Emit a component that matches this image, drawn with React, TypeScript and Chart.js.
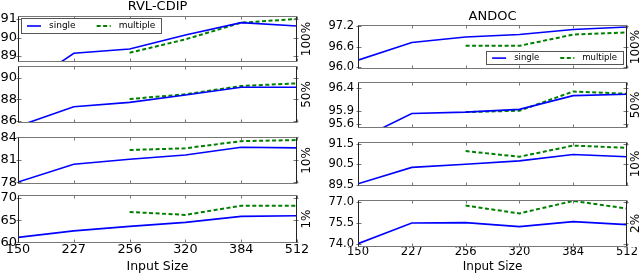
import React, { useEffect, useRef } from 'react';
import { Chart, registerables } from 'chart.js';

Chart.register(...registerables);

const FONT = '"DejaVu Sans", "Liberation Sans", sans-serif';

// ---- categories ----
const inputSizes = ['150', '227', '256', '320', '384', '512'];

// ---- RVL-CDIP ----
const rvl100Single = [87.1, 89.15, 89.38, 90.14, 90.8, 90.62];
const rvl100Multiple = [null, null, 89.18, 89.9, 90.8, 91.0];
const rvl50Single = [85.49, 87.3, 87.71, 88.39, 89.11, 89.11];
const rvl50Multiple = [null, null, 88.02, 88.46, 89.23, 89.48];
const rvl10Single = [78.06, 80.43, 81.09, 81.66, 82.68, 82.6];
const rvl10Multiple = [null, null, 82.32, 82.55, 83.5, 83.64];
const rvl1Single = [61.13, 62.6, 63.6, 64.5, 65.86, 66.0];
const rvl1Multiple = [null, null, 66.85, 66.2, 68.27, 68.27];

// ---- ANDOC ----
const andoc100Single = [96.21, 96.73, 96.89, 96.96, 97.11, 97.18];
const andoc100Multiple = [null, null, 96.63, 96.63, 96.96, 97.02];
const andoc50Single = [95.26, 95.84, 95.87, 95.93, 96.23, 96.26];
const andoc50Multiple = [null, null, 95.87, 95.9, 96.32, 96.27];
const andoc10Single = [89.54, 90.35, 90.5, 90.67, 90.98, 90.87];
const andoc10Multiple = [null, null, 91.15, 90.87, 91.42, 91.31];
const andoc2Single = [74.04, 75.5, 75.52, 75.24, 75.59, 75.38];
const andoc2Multiple = [null, null, 76.72, 76.17, 77.05, 76.51];

// ---- y tick labels ----
const rvl100Ticks = [89, 90, 91];
const rvl50Ticks = [86, 88, 90];
const rvl10Ticks = [78, 81, 84];
const rvl1Ticks = [60, 65, 70];
const andoc100Ticks = [96.0, 96.6, 97.2];
const andoc50Ticks = [95.6, 95.9, 96.4];
const andoc10Ticks = [89.5, 90.5, 91.5];
const andoc2Ticks = [74.0, 75.5, 77.0];

const seriesNames = ['single', 'multiple'];

type PanelSpec = {
  key: string;
  col: number;
  single: (number | null)[];
  multiple: (number | null)[];
  yMin: number;
  yMax: number;
  yTicks: number[];
  decimals: number;
  side: string;
  x0: number; x1: number; y0: number; y1: number;
  yw: number;
  tickFont: number;
  tickPad: number;
  title?: string;
  legend?: 'topleft' | 'bottomright';
  legendFont?: number;
  legendH?: number;
  bottom?: boolean;
  xFont?: number;
  xPad?: number;
};

const panels: PanelSpec[] = [
  { key: 'r100', col: 0, single: rvl100Single, multiple: rvl100Multiple, yMin: 88.68, yMax: 91.16, yTicks: rvl100Ticks, decimals: 0, side: '100%', x0: 18, x1: 297, y0: 16, y1: 62, yw: 18, tickFont: 13, tickPad: 1, title: 'RVL-CDIP', legend: 'topleft', legendFont: 9, legendH: 15 },
  { key: 'r50', col: 0, single: rvl50Single, multiple: rvl50Multiple, yMin: 85.79, yMax: 91.09, yTicks: rvl50Ticks, decimals: 0, side: '50%', x0: 18, x1: 297, y0: 66, y1: 123, yw: 18, tickFont: 13, tickPad: 1 },
  { key: 'r10', col: 0, single: rvl10Single, multiple: rvl10Multiple, yMin: 77.8, yMax: 84.05, yTicks: rvl10Ticks, decimals: 0, side: '10%', x0: 18, x1: 297, y0: 137, y1: 184, yw: 18, tickFont: 13, tickPad: 1 },
  { key: 'r1', col: 0, single: rvl1Single, multiple: rvl1Multiple, yMin: 59.86, yMax: 70.68, yTicks: rvl1Ticks, decimals: 0, side: '1%', x0: 18, x1: 297, y0: 195, y1: 243, yw: 18, tickFont: 13, tickPad: 1, bottom: true, xFont: 12.8, xPad: -1 },
  { key: 'a100', col: 1, single: andoc100Single, multiple: andoc100Multiple, yMin: 95.95, yMax: 97.24, yTicks: andoc100Ticks, decimals: 1, side: '100%', x0: 358, x1: 627, y0: 25, y1: 70, yw: 40, tickFont: 11.5, tickPad: 4, title: 'ANDOC', legend: 'bottomright', legendFont: 8.5, legendH: 13 },
  { key: 'a50', col: 1, single: andoc50Single, multiple: andoc50Multiple, yMin: 95.52, yMax: 96.53, yTicks: andoc50Ticks, decimals: 1, side: '50%', x0: 358, x1: 627, y0: 81, y1: 129, yw: 40, tickFont: 11.5, tickPad: 4 },
  { key: 'a10', col: 1, single: andoc10Single, multiple: andoc10Multiple, yMin: 89.43, yMax: 91.6, yTicks: andoc10Ticks, decimals: 1, side: '10%', x0: 358, x1: 627, y0: 141, y1: 187, yw: 40, tickFont: 11.5, tickPad: 4 },
  { key: 'a2', col: 1, single: andoc2Single, multiple: andoc2Multiple, yMin: 73.81, yMax: 77.12, yTicks: andoc2Ticks, decimals: 1, side: '2%', x0: 358, x1: 627, y0: 199, y1: 247, yw: 40, tickFont: 11.5, tickPad: 4, bottom: true, xFont: 11.5, xPad: -2 },
];

const framePlugin = {
  id: 'panelFrame',
  afterDraw(chart: any, _a: any, opts: any) {
    const { ctx, chartArea } = chart;
    const l = Math.round(chartArea.left) + 0.5;
    const r = Math.round(chartArea.right) - 0.5;
    const t = Math.round(chartArea.top) + 0.5;
    const b = Math.round(chartArea.bottom) - 0.5;
    ctx.save();
    ctx.lineWidth = 1;
    // ticks
    ctx.strokeStyle = '#777';
    const ys = chart.scales.y;
    const xs = chart.scales.x;
    (opts.yTicks || []).forEach((v: number) => {
      const py = Math.round(ys.getPixelForValue(v)) + 0.5;
      ctx.beginPath();
      ctx.moveTo(l - 2, py); ctx.lineTo(l + 3, py);
      ctx.moveTo(r - 3, py); ctx.lineTo(r + 2, py);
      ctx.stroke();
    });
    chart.data.labels.forEach((_: any, i: number) => {
      const px = Math.round(xs.getPixelForValue(i)) + 0.5;
      ctx.beginPath();
      ctx.moveTo(px, t); ctx.lineTo(px, t + 3);
      ctx.moveTo(px, b - 3); ctx.lineTo(px, b);
      ctx.stroke();
    });
    // frame
    ctx.strokeStyle = '#777';
    ctx.beginPath();
    ctx.moveTo(l, t); ctx.lineTo(r, t);
    ctx.moveTo(l, b); ctx.lineTo(r, b);
    ctx.stroke();
    ctx.strokeStyle = '#222';
    ctx.beginPath();
    ctx.moveTo(l, t); ctx.lineTo(l, b);
    ctx.moveTo(r, t); ctx.lineTo(r, b);
    ctx.stroke();
    // side label
    ctx.fillStyle = '#000';
    ctx.font = `12px ${FONT}`;
    ctx.textAlign = 'center';
    ctx.textBaseline = 'middle';
    ctx.translate(chartArea.right + opts.sideOffset, (chartArea.top + chartArea.bottom) / 2);
    ctx.rotate(-Math.PI / 2);
    ctx.fillText(opts.side, 0, 0);
    ctx.restore();
    if (opts.title) {
      ctx.save();
      ctx.fillStyle = '#000';
      ctx.font = `13px ${FONT}`;
      ctx.textAlign = 'center';
      ctx.textBaseline = 'middle';
      ctx.fillText(opts.title, (chartArea.left + chartArea.right) / 2, chartArea.top - opts.titleOffset);
      ctx.restore();
    }
  },
};

const legendPlugin = {
  id: 'boxLegend',
  afterDraw(chart: any, _a: any, opts: any) {
    if (!opts || !opts.where) return;
    const { ctx, chartArea } = chart;
    const ds = chart.data.datasets;
    ctx.save();
    ctx.font = `${opts.fontSize}px ${FONT}`;
    const sample = 14, gapText = 8, gapItem = 21, padX = 6;
    const widths = ds.map((d: any) => ctx.measureText(d.label).width);
    const w = padX * 2 + ds.length * (sample + gapText) + widths.reduce((a: number, b: number) => a + b, 0) + gapItem * (ds.length - 1);
    const h = opts.height;
    const x = opts.where === 'topleft' ? chartArea.left + 3 : chartArea.right - 4 - w;
    const y = opts.where === 'topleft' ? chartArea.top + 2 : chartArea.bottom - 5 - h;
    ctx.fillStyle = '#fff';
    ctx.fillRect(x, y, w, h);
    ctx.strokeStyle = '#555';
    ctx.lineWidth = 1;
    ctx.strokeRect(Math.round(x) + 0.5, Math.round(y) + 0.5, Math.round(w), Math.round(h));
    let cx = x + padX;
    const cy = y + h / 2 + 0.5;
    ds.forEach((d: any, i: number) => {
      ctx.beginPath();
      ctx.strokeStyle = d.borderColor;
      ctx.lineWidth = d.borderWidth;
      ctx.setLineDash(d.borderDash || []);
      ctx.moveTo(cx, cy); ctx.lineTo(cx + sample, cy);
      ctx.stroke();
      ctx.setLineDash([]);
      cx += sample + gapText;
      ctx.fillStyle = '#000';
      ctx.textAlign = 'left';
      ctx.textBaseline = 'middle';
      ctx.fillText(d.label, cx, cy);
      cx += widths[i] + gapItem;
    });
    ctx.restore();
  },
};

function Panel({ p }: { p: PanelSpec }) {
  const ref = useRef<HTMLCanvasElement>(null);
  const padTop = p.title ? p.y0 : 10;
  const padRight = p.col === 0 ? 16 : 13;
  const padBottom = p.bottom ? 274 - p.y1 : 10;
  const left = p.x0 - p.yw;
  const top = p.y0 - padTop;
  const width = p.yw + (p.x1 - p.x0) + padRight;
  const height = padTop + (p.y1 - p.y0) + padBottom;

  useEffect(() => {
    if (!ref.current) return;
    const xFont = { family: FONT, size: p.xFont || 12 };
    const chart = new Chart(ref.current, {
      type: 'line',
      data: {
        labels: inputSizes,
        datasets: [
          { label: seriesNames[0], data: p.single, borderColor: '#0000ff', borderWidth: 1.6, pointRadius: 0, fill: false, tension: 0, clip: 0 } as any,
          { label: seriesNames[1], data: p.multiple, borderColor: '#008000', borderWidth: 2, borderDash: [4, 2.5], pointRadius: 0, fill: false, tension: 0, clip: 0 } as any,
        ],
      },
      options: {
        animation: false,
        responsive: false,
        maintainAspectRatio: false,
        events: [],
        layout: { padding: { top: padTop, right: padRight, bottom: p.bottom ? 0 : padBottom, left: 0 } },
        plugins: {
          legend: { display: false },
          tooltip: { enabled: false },
          title: { display: false },
          panelFrame: { yTicks: p.yTicks, side: p.side, sideOffset: p.col === 0 ? 10 : 9, title: p.title, titleOffset: p.col === 0 ? 9 : 8.5 },
          boxLegend: { where: p.legend, fontSize: p.legendFont, height: p.legendH },
        } as any,
        scales: {
          x: {
            type: 'category',
            display: !!p.bottom,
            offset: false,
            grid: { display: false, drawTicks: false },
            border: { display: false },
            ticks: { display: !!p.bottom, font: xFont, color: '#000', padding: p.xPad || 0, maxRotation: 0, autoSkip: false },
            title: { display: !!p.bottom, text: 'Input Size', font: { family: FONT, size: p.col === 0 ? 12.5 : 12 }, color: '#000', padding: 0 },
            afterFit: (s: any) => { if (p.bottom) s.height = 274 - p.y1; },
          },
          y: {
            type: 'linear',
            min: p.yMin,
            max: p.yMax,
            grid: { display: false, drawTicks: false },
            border: { display: false },
            ticks: {
              font: { family: FONT, size: p.tickFont },
              color: '#000',
              padding: p.tickPad,
              callback: (v: any) => Number(v).toFixed(p.decimals),
            },
            afterBuildTicks: (s: any) => { s.ticks = p.yTicks.map((v) => ({ value: v })); },
            afterFit: (s: any) => { s.width = p.yw; },
          },
        },
      } as any,
      plugins: [framePlugin, legendPlugin],
    });
    return () => chart.destroy();
  }, []);

  return (
    <canvas
      ref={ref}
      width={width}
      height={height}
      style={{ position: 'absolute', left, top, width, height }}
    />
  );
}

export default function App() {
  return (
    <div style={{ position: 'absolute', left: 0, top: 0, width: 640, height: 274, background: '#fff', overflow: 'hidden' }}>
      {panels.map((p) => (
        <Panel key={p.key} p={p} />
      ))}
    </div>
  );
}
